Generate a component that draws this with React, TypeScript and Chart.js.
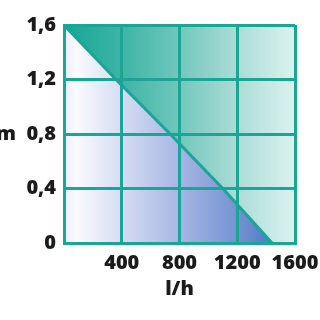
import React, { useEffect, useRef } from "react";
import { Chart, registerables } from "chart.js";

Chart.register(...registerables);

const flowLh = [0, 360, 735, 1100, 1441];
const headM = [1.6, 1.2, 0.8, 0.4, 0];
const xTickValues = [400, 800, 1200, 1600];
const xTickLabels = ["400", "800", "1200", "1600"];
const yTickValues = [0, 0.4, 0.8, 1.2, 1.6];
const yTickLabels = ["0", "0,4", "m  0,8", "1,2", "1,6"];
const xTitle = "l/h";

const TEAL = "#1aa597";
const TEXT = "#1b1b1b";
const FONT = { family: "'Open Sans', sans-serif", size: 20, weight: "800" as any };

const bgPlugin = {
  id: "tealBackground",
  beforeDatasetsDraw(chart: any) {
    const { ctx, chartArea } = chart;
    if (!chartArea) return;
    const { left, right, top, bottom } = chartArea;
    const g = ctx.createLinearGradient(left, 0, right, 0);
    g.addColorStop(0, "#14a696");
    g.addColorStop(0.25, "#3db5a7");
    g.addColorStop(0.45, "#66c3b8");
    g.addColorStop(0.7, "#a1d8d1");
    g.addColorStop(1, "#dcf2ef");
    ctx.save();
    ctx.fillStyle = g;
    ctx.fillRect(left, top, right - left, bottom - top);
    ctx.restore();
  },
};

export default function App() {
  const ref = useRef<HTMLCanvasElement | null>(null);

  useEffect(() => {
    if (!ref.current) return;
    const chart = new Chart(ref.current, {
      type: "line",
      data: {
        datasets: [
          {
            data: flowLh.map((x, i) => ({ x, y: headM[i] })),
            borderColor: TEAL,
            borderWidth: 3,
            pointRadius: 0,
            tension: 0,
            fill: "origin",
            backgroundColor: (c: any) => {
              const ca = c.chart.chartArea;
              if (!ca) return "rgba(0,0,0,0)";
              const g = c.chart.ctx.createLinearGradient(ca.left, 0, ca.right, 0);
              g.addColorStop(0, "#e9ecf8");
              g.addColorStop(0.05, "#fbfbfe");
              g.addColorStop(0.3, "#ccd5f0");
              g.addColorStop(0.55, "#9cafe0");
              g.addColorStop(0.78, "#6d8fd0");
              g.addColorStop(0.92, "#4878c3");
              g.addColorStop(1, "#3f70be");
              return g;
            },
          },
        ],
      },
      options: {
        animation: false,
        responsive: true,
        maintainAspectRatio: false,
        layout: { padding: { left: 0, top: 25, right: 25, bottom: 0 } },
        plugins: { legend: { display: false }, tooltip: { enabled: false } },
        scales: {
          x: {
            type: "linear",
            min: 0,
            max: 1600,
            afterBuildTicks: (s: any) => {
              s.ticks = [0, ...xTickValues].map((v) => ({ value: v }));
            },
            afterFit: (s: any) => {
              s.height = 77;
              s.paddingRight = 0;
              s.paddingLeft = 0;
            },
            ticks: {
              padding: 8,
              z: 1,
              color: TEXT,
              font: FONT,
              maxRotation: 0,
              autoSkip: false,
              callback: (v: any) => {
                const i = xTickValues.indexOf(Number(v));
                return i >= 0 ? xTickLabels[i] : "";
              },
            },
            grid: { color: TEAL, lineWidth: 3, drawTicks: false, z: 1 },
            border: { color: TEAL, width: 3, z: 1 },
            title: {
              display: true,
              text: xTitle,
              color: TEXT,
              font: FONT,
              padding: { top: 2, bottom: 19 },
            },
          },
          y: {
            type: "linear",
            min: 0,
            max: 1.6,
            afterBuildTicks: (s: any) => {
              s.ticks = yTickValues.map((v) => ({ value: v }));
            },
            afterFit: (s: any) => {
              s.width = 64;
              s.paddingTop = 0;
              s.paddingBottom = 0;
            },
            ticks: {
              padding: 8,
              z: 1,
              color: TEXT,
              font: FONT,
              autoSkip: false,
              callback: (v: any) => {
                const i = yTickValues.findIndex((t) => Math.abs(t - Number(v)) < 1e-6);
                return i >= 0 ? yTickLabels[i] : "";
              },
            },
            grid: { color: TEAL, lineWidth: 3, drawTicks: false, z: 1 },
            border: { color: TEAL, width: 3, z: 1 },
          },
        },
      },
      plugins: [bgPlugin],
    });
    return () => chart.destroy();
  }, []);

  return (
    <div style={{ position: "fixed", left: 0, top: 0, width: 320, height: 320, background: "#fff" }}>
      <canvas ref={ref} />
    </div>
  );
}
